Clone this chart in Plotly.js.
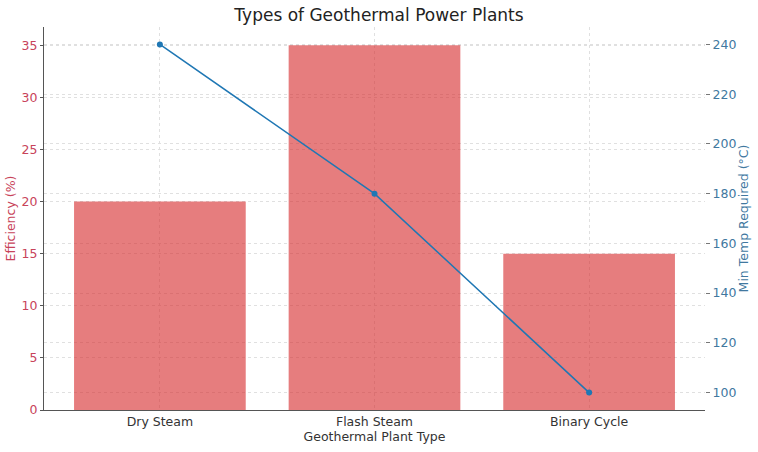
<!DOCTYPE html>
<html>
<head>
<meta charset="utf-8">
<script src="https://cdn.plot.ly/plotly-3.0.1.min.js"></script>
<style>html,body{margin:0;padding:0;background:#fff;}#chart{width:758px;height:452px;}</style>
</head>
<body>
<div id="chart"></div>
<script>
const plantTypes = ["Dry Steam", "Flash Steam", "Binary Cycle"];
const efficiency = [20, 35, 15];
const minTemp = [240, 180, 100];

const font = "DejaVu Sans, sans-serif";
const redText = "#c8435a";
const blue = "#1f77b4";
const blueText = "#41789f";
const grid = "#e0e0e0";

const traces = [
  {
    type: "bar", x: plantTypes, y: efficiency, name: "Efficiency (%)",
    marker: {color: "rgba(214,39,40,0.6)", line: {width: 0}},
    width: 0.8, yaxis: "y", hoverinfo: "skip"
  },
  {
    type: "scatter", mode: "lines+markers", x: plantTypes, y: minTemp, name: "Min Temp Required (°C)",
    line: {color: blue, width: 1.5}, marker: {color: blue, size: 6}, yaxis: "y2"
  }
];

const layout = {
  width: 758, height: 452,
  margin: {l: 44, r: 53, t: 27, b: 42},
  paper_bgcolor: "#fff", plot_bgcolor: "#fff",
  showlegend: false,
  font: {family: font, color: "#333", size: 12},
  title: {text: "Types of Geothermal Power Plants", font: {family: font, size: 17, color: "#222"}, x: 0.5, xanchor: "center", y: 0.98, yanchor: "top"},
  xaxis: {
    type: "category", range: [-0.54, 2.54],
    showgrid: true, gridcolor: grid, griddash: "dot", gridwidth: 1,
    showline: true, linecolor: "#555", linewidth: 1,
    ticks: "", 
    tickfont: {family: font, size: 12.5, color: "#333"},
    title: {text: "Geothermal Plant Type", font: {family: font, size: 12.5, color: "#333"}, standoff: 3},
    zeroline: false
  },
  yaxis: {
    range: [0, 36.75], tickvals: [0,5,10,15,20,25,30,35],
    showgrid: true, gridcolor: grid, griddash: "dot", gridwidth: 1,
    showline: true, linecolor: "#555", linewidth: 1,
    ticks: "outside", ticklen: 3, tickcolor: "#555",
    tickfont: {family: font, size: 12.5, color: redText},
    title: {text: "Efficiency (%)", font: {family: font, size: 12.5, color: redText}, standoff: 3},
    zeroline: false
  },
  yaxis2: {
    overlaying: "y", side: "right", range: [93, 247],
    tickvals: [100,120,140,160,180,200,220,240],
    showgrid: true, gridcolor: grid, griddash: "dot", gridwidth: 1,
    showline: false,
    ticks: "outside", ticklen: 4, tickcolor: "#777",
    tickfont: {family: font, size: 12.5, color: blueText},
    title: {text: "Min Temp Required (°C)", font: {family: font, size: 12.5, color: blueText}, standoff: 2},
    zeroline: false
  }
};

Plotly.newPlot("chart", traces, layout, {displayModeBar: false, staticPlot: true});
</script>
</body>
</html>
